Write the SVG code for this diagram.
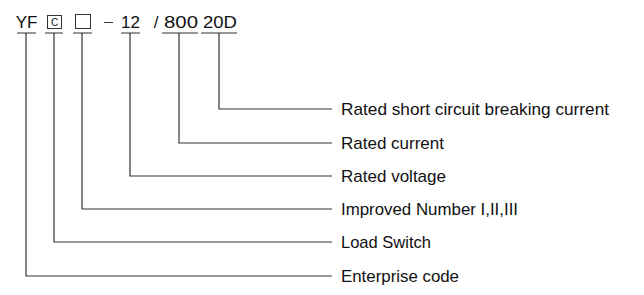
<svg xmlns="http://www.w3.org/2000/svg" width="644" height="295" viewBox="0 0 644 295">
<style>
.t{font-family:"Liberation Sans",Arial,sans-serif;font-size:17px;fill:#111}
.h{font-size:17px}
.c{stroke:#333;stroke-width:1.2;fill:none}
.b{stroke:#333;stroke-width:1;fill:none}
</style>
<rect width="644" height="295" fill="#fff"/>
<g id="code">
<text class="t h" x="26.5" y="28" text-anchor="middle">YF</text>
<rect class="b" x="47.5" y="15.5" width="14" height="13"/>
<text class="t" x="54.5" y="26" text-anchor="middle" style="font-size:10px">C</text>
<rect class="b" x="75.5" y="14.5" width="15" height="14"/>
<line class="b" x1="104" y1="22.5" x2="113" y2="22.5" stroke-width="1.6"/>
<text class="t h" x="130.5" y="28" text-anchor="middle">12</text>
<text class="t h" x="156" y="28" text-anchor="middle">/</text>
<text class="t h" x="164" y="28" textLength="34" lengthAdjust="spacingAndGlyphs">800</text>
<text class="t h" x="203" y="28" textLength="34" lengthAdjust="spacingAndGlyphs">20D</text>
</g>
<g id="connectors" class="c">
<path d="M17 33H36M45 33H63M73 33H92M121 33H140M162 33H198M201 33H237"/>
<path d="M26 33V276H332"/>
<path d="M54 33V242H332"/>
<path d="M82 33V209H332"/>
<path d="M130 33V176H332"/>
<path d="M179 33V143H332"/>
<path d="M219 33V109H332"/>
</g>
<g id="labels">
<text class="t" x="341" y="115" textLength="268" lengthAdjust="spacingAndGlyphs">Rated short circuit breaking current</text>
<text class="t" x="341" y="149" textLength="103" lengthAdjust="spacingAndGlyphs">Rated current</text>
<text class="t" x="341" y="182" textLength="105" lengthAdjust="spacingAndGlyphs">Rated voltage</text>
<text class="t" x="341" y="215" textLength="177" lengthAdjust="spacingAndGlyphs">Improved Number I,II,III</text>
<text class="t" x="341" y="248" textLength="90" lengthAdjust="spacingAndGlyphs">Load Switch</text>
<text class="t" x="341" y="282" textLength="118" lengthAdjust="spacingAndGlyphs">Enterprise code</text>
</g>
</svg>
